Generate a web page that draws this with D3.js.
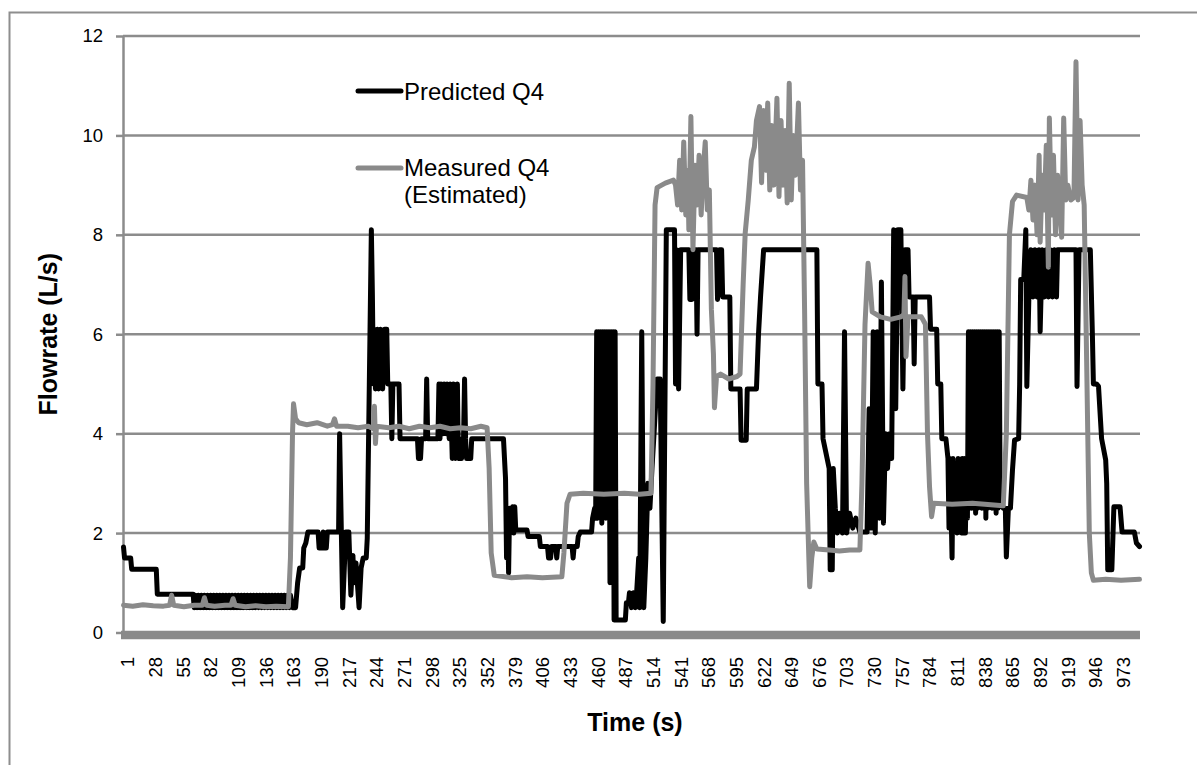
<!DOCTYPE html>
<html><head><meta charset="utf-8">
<script src="https://cdn.jsdelivr.net/npm/d3@7"></script>
<style>
body{margin:0;background:#fff}
svg{display:block}
text{font-family:"Liberation Sans",Arial,sans-serif;fill:#000}
</style>
</head><body>
<svg id="chart" width="1197" height="765"></svg>
<script>
// ---- data ----
const categoryCount = 993;               // time steps 1..993 s
const xTickLabels = [1,28,55,82,109,136,163,190,217,244,271,298,325,352,379,406,433,460,487,514,541,568,595,622,649,676,703,730,757,784,811,838,865,892,919,946,973];
const yTickValues = [0,2,4,6,8,10,12];
const seriesNames = ["Predicted Q4", "Measured Q4", "(Estimated)"];

// Predicted Q4: [time (s), flowrate (L/s)] vertices
const predicted = [
[1,1.72],[2,1.5],[8,1.5],[9,1.27],[33,1.27],[34,0.77],
[69,0.77],[70,0.5],[71,0.75],[73,0.5],[74,0.75],[76,0.5],[77,0.75],[79,0.5],[80,0.75],[82,0.5],[83,0.75],[85,0.5],[86,0.75],[88,0.5],[89,0.75],[91,0.5],[92,0.75],[94,0.5],[95,0.75],[97,0.5],[98,0.75],[100,0.5],[101,0.75],[103,0.5],[104,0.75],[106,0.5],[107,0.75],[109,0.5],[110,0.75],[112,0.5],[113,0.75],[115,0.5],[116,0.75],[118,0.5],[119,0.75],[121,0.5],[122,0.75],[124,0.5],[125,0.75],[127,0.5],[128,0.75],[130,0.5],[131,0.75],[133,0.5],[134,0.75],[136,0.5],[137,0.75],[139,0.5],[140,0.75],[142,0.5],[143,0.75],[145,0.5],[146,0.75],[148,0.5],[149,0.75],[151,0.5],[152,0.75],[154,0.5],[155,0.75],[157,0.5],[158,0.75],[160,0.5],[161,0.75],[163,0.5],[164,0.75],[166,0.5],[169,0.5],
[171,1.0],[173,1.3],[176,1.3],[177,1.7],[179,1.8],[181,2.02],[191,2.02],[192,1.7],[195,1.7],[196,2.02],[197,1.7],[199,1.7],[200,2.02],[211,2.02],[212,4.0],[215,0.5],[218,2.02],[221,2.02],[223,0.75],[225,1.55],[226,1.0],[228,1.4],[231,0.5],[233,1.3],[235,1.5],[238,1.5],[239,1.9],[241,5.0],[243,8.1],[244,6.8],[245,5.0],[246,6.1],[247,4.9],[249,6.1],[250,4.9],[252,6.1],[254,4.9],[256,6.1],[258,6.1],[259,5.0],[262,5.0],[263,3.9],[264,5.0],[270,5.0],[271,3.9],
[288,3.9],[289,3.5],[291,3.5],[292,3.9],[296,3.9],[297,5.1],[298,3.9],[308,3.9],[309,5.0],[310,3.9],[311,5.0],[313,4.0],[314,5.0],[316,4.0],[317,5.0],[319,3.9],[320,5.0],[322,3.5],[323,5.0],[325,3.5],[327,5.0],[328,3.5],[331,3.5],[332,3.9],[333,3.9],[334,5.1],[335,3.9],[336,3.5],[340,3.5],[341,3.9],[372,3.9],[373,3.5],[374,3.1],[375,1.5],[376,2.5],[377,1.2],[378,2.5],[380,2.1],[381,2.53],[382,2.0],[383,2.53],[384,2.06],[395,2.06],[396,1.93],[407,1.93],[408,1.73],[415,1.73],[416,1.5],[418,1.5],[419,1.73],[423,1.73],[424,1.5],[425,1.73],[439,1.73],[440,1.5],[441,1.73],[444,1.73],[445,1.93],[447,2.02],[458,2.02],[459,2.3],[461,2.5],[462,2.3],
[463,6.05],[464,2.3],[465,6.05],[466,2.5],[467,6.05],[468,2.2],[469,6.05],[470,2.5],[471,6.05],[472,2.3],[473,6.05],[474,2.5],[475,6.05],[476,1.0],[477,6.05],[478,2.0],[479,6.05],[480,0.25],[481,6.05],[482,0.25],
[491,0.25],[492,0.6],[494,0.6],[495,0.8],[497,0.5],[499,0.8],[501,0.5],[502,0.8],[504,1.5],[505,0.5],[507,6.05],[509,0.5],[511,1.5],[513,3.0],[515,2.5],[517,3.3],[519,4.0],[522,5.1],[525,5.1],[528,0.22],[531,8.1],[539,8.1],[540,5.0],[541,7.7],[543,4.9],[545,7.7],[553,7.7],[554,6.7],[556,6.7],[557,7.7],[560,7.7],[561,6.0],[562,7.7],[580,7.7],[581,6.7],[583,7.7],[585,7.7],[586,6.75],[593,6.75],[594,4.9],[603,4.9],[604,3.87],[609,3.87],[610,4.9],[619,4.9],[621,6.0],[623,6.75],[626,7.7],[678,7.7],[679,5.0],[683,5.0],[684,3.9],[688,3.5],[690,3.3],[691,1.26],[693,1.26],[694,3.3],[696,2.5],[698,2.0],[700,2.4],[703,2.0],[705,6.05],[707,2.0],[710,2.4],[713,2.1],[716,2.3],[720,2.02],[727,2.02],[729,4.5],[731,2.1],[733,6.05],[735,2.0],[737,6.05],[739,2.3],[741,7.05],[743,2.2],[745,4.0],[747,3.3],[749,4.0],[751,3.5],[753,8.1],[755,4.5],[757,8.1],[760,8.1],[762,4.9],[764,7.7],[767,7.7],[768,6.75],[772,6.75],[773,5.4],[774,6.75],[788,6.75],[789,6.1],[795,6.1],[796,5.0],[799,5.0],[800,3.9],[804,3.9],[806,3.5],
[807,2.1],[808,3.5],[810,1.5],[811,3.5],[812,2.1],[813,3.4],[815,2.0],[816,3.5],[817,2.4],[818,3.3],[819,2.0],[820,3.5],[821,2.0],[822,3.5],[823,2.0],[824,3.2],[825,2.3],[826,6.05],[827,2.6],[828,6.05],[829,2.5],[830,6.05],[831,2.6],[832,6.05],[833,2.4],[834,6.05],[835,2.5],[836,6.05],[837,2.6],[838,6.05],[839,2.5],[840,6.05],[841,2.6],[842,6.05],[843,2.3],[844,6.05],[845,2.5],[846,6.05],[847,2.6],[848,6.05],[849,2.5],[850,6.05],[851,2.6],[852,6.05],[853,2.4],[854,6.05],[855,2.5],[856,6.05],[857,2.6],
[860,2.5],[862,2.5],[863,1.52],[865,2.5],[867,2.5],[869,3.27],[871,3.87],[875,3.9],[876,5.0],[877,7.1],[880,7.1],[882,8.1],[883,4.95],[885,6.75],[887,7.7],[889,6.75],[891,7.7],[893,6.75],[895,7.7],[896,6.05],[898,7.7],[900,6.75],[902,7.7],[904,6.75],[906,7.7],[908,6.75],[910,7.7],[912,6.75],[913,7.7],[931,7.7],[932,4.95],[934,7.7],[945,7.7],[947,6.0],[948,5.0],[951,5.0],[953,4.95],[956,3.9],[960,3.47],[961,3.0],[962,1.26],[966,1.26],[968,2.53],[974,2.53],[976,2.02],[988,2.02],[990,1.8],[993,1.73]
];

// Measured Q4 (Estimated): [time (s), flowrate (L/s)] vertices
const measured = [
[1,0.55],[10,0.53],[20,0.56],[30,0.54],[40,0.53],[46,0.55],[48,0.75],[50,0.55],[60,0.52],[70,0.55],[78,0.55],[80,0.7],[82,0.55],[90,0.53],[100,0.55],[106,0.55],[108,0.68],[110,0.55],[120,0.52],[130,0.54],[140,0.52],[150,0.53],[162,0.52],[164,1.5],[166,4.0],[167,4.6],[169,4.3],[172,4.22],[180,4.18],[190,4.22],[200,4.15],[205,4.18],[207,4.3],[209,4.15],[220,4.15],[230,4.12],[240,4.15],[245,4.1],[246,4.55],[247,3.8],[248,4.15],[260,4.12],[270,4.15],[280,4.1],[290,4.15],[300,4.12],[310,4.15],[320,4.1],[330,4.12],[340,4.1],[350,4.15],[356,4.12],[358,3.3],[360,1.6],[363,1.15],[380,1.1],[395,1.12],[410,1.1],[429,1.12],[431,1.6],[434,2.6],[437,2.78],[450,2.8],[470,2.78],[490,2.8],[505,2.78],[516,2.8],[518,5.0],[520,8.6],[522,8.95],[530,9.04],[538,9.1],
[540,9.0],[542,8.6],[544,9.5],[546,8.5],[548,9.87],[550,8.4],[552,9.3],[553,8.1],[555,10.38],[557,7.7],[559,9.4],[561,8.6],[563,9.6],[565,8.4],[567,9.3],[569,9.87],[571,8.5],[573,8.9],[575,6.5],[577,5.6],[578,4.52],[580,5.15],[584,5.2],[592,5.1],[600,5.15],[603,5.2],[606,7.0],[608,8.03],[611,8.7],[614,9.5],[617,9.77],[619,10.3],[622,10.58],[624,9.05],[626,10.5],[628,9.3],[630,10.65],[632,8.9],[634,10.2],[636,9.0],[639,10.75],[641,8.77],[643,10.3],[645,9.0],[647,10.1],[649,8.64],[651,11.05],[653,8.7],[655,10.0],[657,9.2],[660,10.65],[662,8.9],[664,9.5],[666,6.5],[668,3.0],[671,0.92],[673,1.5],[675,1.82],[678,1.68],[690,1.66],[700,1.64],[710,1.66],[720,1.66],[722,3.0],[725,6.2],[728,7.43],[730,7.0],[732,6.45],[740,6.35],[750,6.3],[760,6.35],[763,6.4],[764,7.16],[765,5.55],[767,6.35],[780,6.35],[784,6.2],[786,4.0],[788,2.93],[790,2.33],[792,2.6],[810,2.58],[830,2.6],[860,2.55],[863,4.0],[866,8.0],[869,8.67],[873,8.8],[883,8.75],[885,8.5],[887,9.1],[889,8.3],[891,9.0],[893,8.0],[895,9.6],[896,7.85],[898,9.2],[900,8.5],[902,9.8],[904,7.35],[905,10.35],[907,8.4],[909,9.6],[911,8.0],[913,9.2],[915,8.6],[917,7.95],[919,10.35],[921,8.7],[923,9.0],[926,8.7],[929,8.75],[931,11.48],[933,8.7],[935,10.3],[937,9.0],[939,8.6],[941,6.0],[944,2.0],[946,1.2],[948,1.05],[960,1.07],[975,1.05],[993,1.07]
];

// ---- drawing ----
const svg = d3.select('#chart');
const W = 1197, H = 765;
const plot = {left:123, right:1140, top:36, bottom:632.5};
const gridColor = '#8c8c8c';
const grayLine = '#8a8a8a';

const x = d3.scaleLinear().domain([0.5, categoryCount + 0.5]).range([plot.left, plot.right]);
const y = d3.scaleLinear().domain([0, 12]).range([plot.bottom, plot.top]);

// outer chart frame (left and top edges visible)
svg.append('path').attr('d', `M9.5,${H+2}V12.5H${W+2}`)
  .attr('fill','none').attr('stroke','#8e8e8e').attr('stroke-width',2);

// horizontal gridlines
svg.append('g').selectAll('line').data(yTickValues.filter(v => v > 0)).join('line')
  .attr('x1', plot.left).attr('x2', plot.right)
  .attr('y1', d => y(d)).attr('y2', d => y(d))
  .attr('stroke', gridColor).attr('stroke-width', 2.5);

// y axis
const yAxis = svg.append('g').attr('transform', `translate(${plot.left},0)`)
  .call(d3.axisLeft(y).tickValues(yTickValues).tickSize(7).tickSizeOuter(0).tickPadding(13));
yAxis.select('.domain').attr('stroke', gridColor).attr('stroke-width', 2.5);
yAxis.selectAll('.tick line').attr('stroke', gridColor).attr('stroke-width', 2.5);
yAxis.selectAll('.tick text').attr('font-size', '18.5px').attr('font-family', '"Liberation Sans",Arial,sans-serif').attr('fill','#000');

// x axis baseline (thick gray)
svg.append('line').attr('x1', plot.left - 2).attr('x2', plot.right)
  .attr('y1', y(0) + 2.5).attr('y2', y(0) + 2.5)
  .attr('stroke', grayLine).attr('stroke-width', 8.5);

// x axis tick labels (rotated)
const xAxis = svg.append('g').attr('transform', `translate(4,657)`)
  .call(d3.axisBottom(x).tickValues(xTickLabels).tickSize(0).tickFormat(d => String(d)));
xAxis.select('.domain').remove();
xAxis.selectAll('.tick text')
  .attr('x', 0).attr('y', 0).attr('dy', '0.35em')
  .attr('transform', 'rotate(-90)').attr('text-anchor', 'end')
  .attr('font-size', '18.5px').attr('font-family', '"Liberation Sans",Arial,sans-serif').attr('fill','#000');

// series lines
const line = d3.line().x(d => x(d[0])).y(d => y(d[1]));
svg.append('path').datum(predicted).attr('d', line)
  .attr('fill','none').attr('stroke','#000').attr('stroke-width',5)
  .attr('stroke-linejoin','round').attr('stroke-linecap','round');
svg.append('path').datum(measured).attr('d', line)
  .attr('fill','none').attr('stroke',grayLine).attr('stroke-width',5)
  .attr('stroke-linejoin','round').attr('stroke-linecap','round');

// axis titles
svg.append('text').attr('x', 635).attr('y', 731)
  .attr('text-anchor','middle').attr('font-weight','bold').attr('font-size','25px').text('Time (s)');
svg.append('text').attr('transform', `translate(57,${(plot.top + plot.bottom) / 2}) rotate(-90)`)
  .attr('text-anchor','middle').attr('font-weight','bold').attr('font-size','25px').text('Flowrate (L/s)');

// legend
const legend = svg.append('g');
legend.append('line').attr('x1',358).attr('x2',401).attr('y1',91).attr('y2',91)
  .attr('stroke','#000').attr('stroke-width',5).attr('stroke-linecap','round');
legend.append('text').attr('x',404).attr('y',100).attr('font-size','24px').text(seriesNames[0]);
legend.append('line').attr('x1',358).attr('x2',401).attr('y1',168).attr('y2',168)
  .attr('stroke',grayLine).attr('stroke-width',5).attr('stroke-linecap','round');
legend.append('text').attr('x',404).attr('y',176).attr('font-size','24px').text(seriesNames[1]);
legend.append('text').attr('x',404).attr('y',203).attr('font-size','24px').text(seriesNames[2]);
</script>
</body></html>
